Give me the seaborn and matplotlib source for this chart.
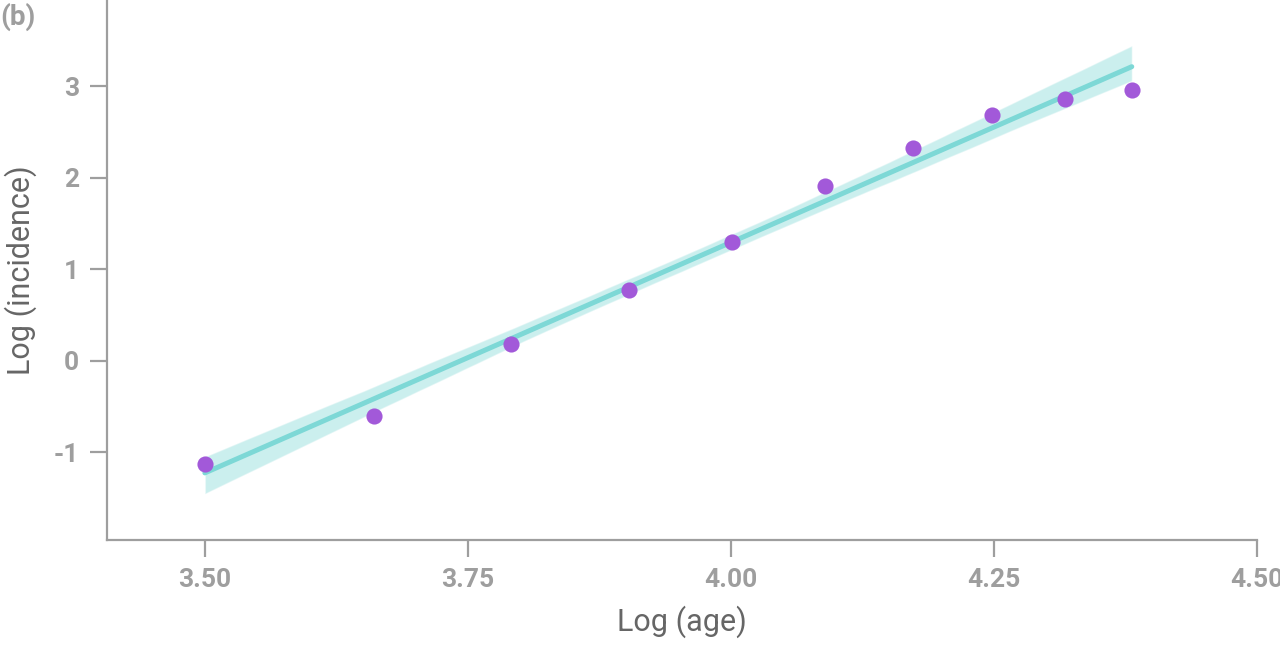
import numpy as np
import pandas as pd
import matplotlib
matplotlib.use("Agg")
import matplotlib.pyplot as plt
import seaborn as sns

# data
log_age = [3.500, 3.661, 3.791, 3.903, 4.001, 4.089, 4.173, 4.248, 4.318, 4.381]
log_incidence = [-1.13, -0.60, 0.18, 0.77, 1.30, 1.91, 2.32, 2.68, 2.86, 2.96]
x_ticks = [3.50, 3.75, 4.00, 4.25, 4.50]
y_ticks = [-1, 0, 1, 2, 3]

df = pd.DataFrame({"log_age": log_age, "log_incidence": log_incidence})

sns.set_theme(style="white")
plt.rcParams['font.family'] = ['Roboto', 'DejaVu Sans']

grey = "#9e9e9e"
label_grey = "#666666"

fig = plt.figure(figsize=(12.8, 6.46), dpi=100)
ax = fig.add_axes([0.0836, 0.164, 0.8984, 0.836])

sns.regplot(data=df, x="log_age", y="log_incidence", ax=ax, ci=95, seed=3,
            scatter_kws={"s": 135, "color": "#a259d9", "alpha": 1, "zorder": 4, "linewidths": 0},
            line_kws={"color": "#7dd8d6", "lw": 3.6, "zorder": 3},
            color="#7dd8d6")
# confidence band is the last collection
ax.collections[-1].set_alpha(0.4)

ax.set_xlim(3.407, 4.50)
ax.set_ylim(-1.96, 3.94)
ax.set_xticks(x_ticks)
ax.set_xticklabels([f"{t:.2f}" for t in x_ticks])
ax.set_yticks(y_ticks)
ax.set_yticklabels([str(t) for t in y_ticks])

for s in ["top", "right"]:
    ax.spines[s].set_visible(False)
for s in ["left", "bottom"]:
    ax.spines[s].set_color(grey)
    ax.spines[s].set_linewidth(1.6)

ax.tick_params(axis="both", bottom=True, left=True, colors=grey, length=12, width=1.6,
               labelsize=19, pad=8)
for lab in ax.get_xticklabels() + ax.get_yticklabels():
    lab.set_fontweight("bold")

ax.set_xlabel("Log (age)", fontsize=22, color=label_grey, labelpad=10)
ax.set_ylabel("Log (incidence)", fontsize=22, color=label_grey, labelpad=12)

fig.text(0.0, 0.995, "(b)", fontsize=20, fontweight="bold", color=grey, ha="left", va="top")

fig.savefig("out.png", dpi=100)
